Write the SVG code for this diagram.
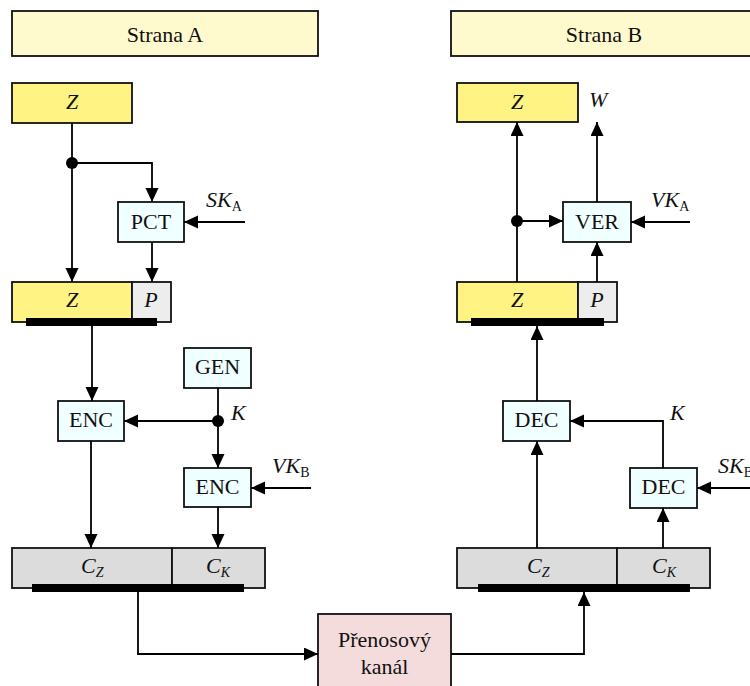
<svg xmlns="http://www.w3.org/2000/svg" width="750" height="686" viewBox="0 0 750 686">
  <style>
    text { font-family: "Liberation Serif", "Times New Roman", serif; font-size: 22px; fill: #111; }
    .c { text-anchor: middle; }
    .i { font-style: italic; }
    .sub { font-size: 14px; }
    .box { stroke: #111; stroke-width: 1.8; }
    .side { fill: #FFFACD; }
    .data { fill: #FFF383; }
    .sig { fill: #EDEDED; }
    .proc { fill: #F0FFFF; }
    .cip { fill: #DCDCDC; }
    .chan { fill: #F4DCDC; }
    .bar { fill: #000; }
    .ln { fill: none; stroke: #000; stroke-width: 1.8; }
    .arr { marker-end: url(#ah); }
  </style>
  <defs>
    <marker id="ah" markerUnits="userSpaceOnUse" markerWidth="14" markerHeight="14" refX="14" refY="6.5" orient="auto">
      <path d="M0,0 L14,6.5 L0,13 Z" fill="#000"/>
    </marker>
  </defs>

  <rect width="750" height="686" fill="#fff"/>

  <!-- side headers -->
  <g id="stranaA">
    <rect class="box side" x="12" y="11" width="306" height="45"/>
    <text class="c" x="165" y="42">Strana A</text>
  </g>
  <g id="stranaB">
    <rect class="box side" x="451" y="11" width="306" height="45"/>
    <text class="c" x="604" y="42">Strana B</text>
  </g>

  <!-- side A nodes -->
  <g id="zA">
    <rect class="box data" x="12" y="83" width="120" height="40"/>
    <text class="c i" x="72" y="109">Z</text>
  </g>
  <g id="pct">
    <rect class="box proc" x="118" y="202" width="66" height="40"/>
    <text class="c" x="151" y="229">PCT</text>
  </g>
  <g id="zpA">
    <rect class="box data" x="12" y="282" width="120" height="40"/>
    <rect class="box sig" x="132" y="282" width="39" height="40"/>
    <rect class="bar" x="26" y="318" width="131" height="8"/>
    <text class="c i" x="72" y="307">Z</text>
    <text class="c i" x="151" y="307">P</text>
  </g>
  <g id="encA">
    <rect class="box proc" x="58" y="401" width="66" height="40"/>
    <text class="c" x="91" y="427">ENC</text>
  </g>
  <g id="gen">
    <rect class="box proc" x="184" y="348" width="67" height="40"/>
    <text class="c" x="217.5" y="374">GEN</text>
  </g>
  <g id="encK">
    <rect class="box proc" x="184" y="468" width="67" height="39"/>
    <text class="c" x="217.5" y="494">ENC</text>
  </g>
  <g id="cA">
    <rect class="box cip" x="12" y="548" width="160" height="40"/>
    <rect class="box cip" x="172" y="548" width="93" height="40"/>
    <rect class="bar" x="32" y="584" width="212" height="8"/>
    <text class="i" x="81" y="573">C<tspan class="sub" dy="4">Z</tspan></text>
    <text class="i" x="206" y="573">C<tspan class="sub" dy="4">K</tspan></text>
  </g>

  <!-- channel -->
  <g id="kanal">
    <rect class="box chan" x="318" y="614" width="133" height="80"/>
    <text class="c" x="384.5" y="647">Přenosový</text>
    <text class="c" x="384.5" y="674">kanál</text>
  </g>

  <!-- side B nodes -->
  <g id="zB">
    <rect class="box data" x="457" y="83" width="121" height="39"/>
    <text class="c i" x="517" y="109">Z</text>
  </g>
  <g id="ver">
    <rect class="box proc" x="563" y="202" width="68" height="40"/>
    <text class="c" x="597" y="229">VER</text>
  </g>
  <g id="zpB">
    <rect class="box data" x="457" y="282" width="121" height="40"/>
    <rect class="box sig" x="578" y="282" width="39" height="40"/>
    <rect class="bar" x="471" y="318" width="133" height="8"/>
    <text class="c i" x="517" y="307">Z</text>
    <text class="c i" x="597" y="307">P</text>
  </g>
  <g id="decZ">
    <rect class="box proc" x="503" y="401" width="67" height="40"/>
    <text class="c" x="536.5" y="427">DEC</text>
  </g>
  <g id="decK">
    <rect class="box proc" x="630" y="468" width="67" height="40"/>
    <text class="c" x="663.5" y="494">DEC</text>
  </g>
  <g id="cB">
    <rect class="box cip" x="457" y="548" width="160" height="40"/>
    <rect class="box cip" x="617" y="548" width="93" height="40"/>
    <rect class="bar" x="478" y="584" width="212" height="8"/>
    <text class="i" x="527" y="573">C<tspan class="sub" dy="4">Z</tspan></text>
    <text class="i" x="652" y="573">C<tspan class="sub" dy="4">K</tspan></text>
  </g>

  <!-- connectors -->
  <g id="connectors">
    <!-- side A -->
    <path class="ln arr" d="M72,123 V282"/>
    <path class="ln arr" d="M72,163 H152 V202"/>
    <circle cx="72" cy="163" r="6"/>
    <path class="ln arr" d="M245,222 H184"/>
    <path class="ln arr" d="M152,242 V282"/>
    <path class="ln arr" d="M92,326 V401"/>
    <path class="ln arr" d="M218,388 V468"/>
    <path class="ln arr" d="M218,421 H124"/>
    <circle cx="218" cy="421" r="6"/>
    <path class="ln arr" d="M311,488 H251"/>
    <path class="ln arr" d="M91,441 V548"/>
    <path class="ln arr" d="M218,507 V548"/>
    <!-- transmission -->
    <path class="ln arr" d="M138,592 V654 H318"/>
    <path class="ln arr" d="M451,654 H584 V592"/>
    <!-- side B -->
    <path class="ln arr" d="M537,548 V441"/>
    <path class="ln arr" d="M663,548 V508"/>
    <path class="ln arr" d="M663,468 V421 H570"/>
    <path class="ln arr" d="M750,488 H697"/>
    <path class="ln arr" d="M537,401 V326"/>
    <path class="ln arr" d="M517,282 V122"/>
    <path class="ln arr" d="M517,221 H563"/>
    <circle cx="517" cy="221" r="6"/>
    <path class="ln arr" d="M597,282 V242"/>
    <path class="ln arr" d="M597,202 V122"/>
    <path class="ln arr" d="M690,222 H631"/>
  </g>

  <!-- signal labels -->
  <g id="labels">
    <text class="i" x="206" y="207">SK<tspan class="sub" font-style="normal" dy="4">A</tspan></text>
    <text class="i" x="231" y="420">K</text>
    <text class="i" x="272" y="473">VK<tspan class="sub" font-style="normal" dy="4">B</tspan></text>
    <text class="i" x="589" y="107">W</text>
    <text class="i" x="651" y="207">VK<tspan class="sub" font-style="normal" dy="4">A</tspan></text>
    <text class="i" x="670" y="420">K</text>
    <text class="i" x="718" y="473">SK<tspan class="sub" font-style="normal" dy="4">B</tspan></text>
  </g>
</svg>
